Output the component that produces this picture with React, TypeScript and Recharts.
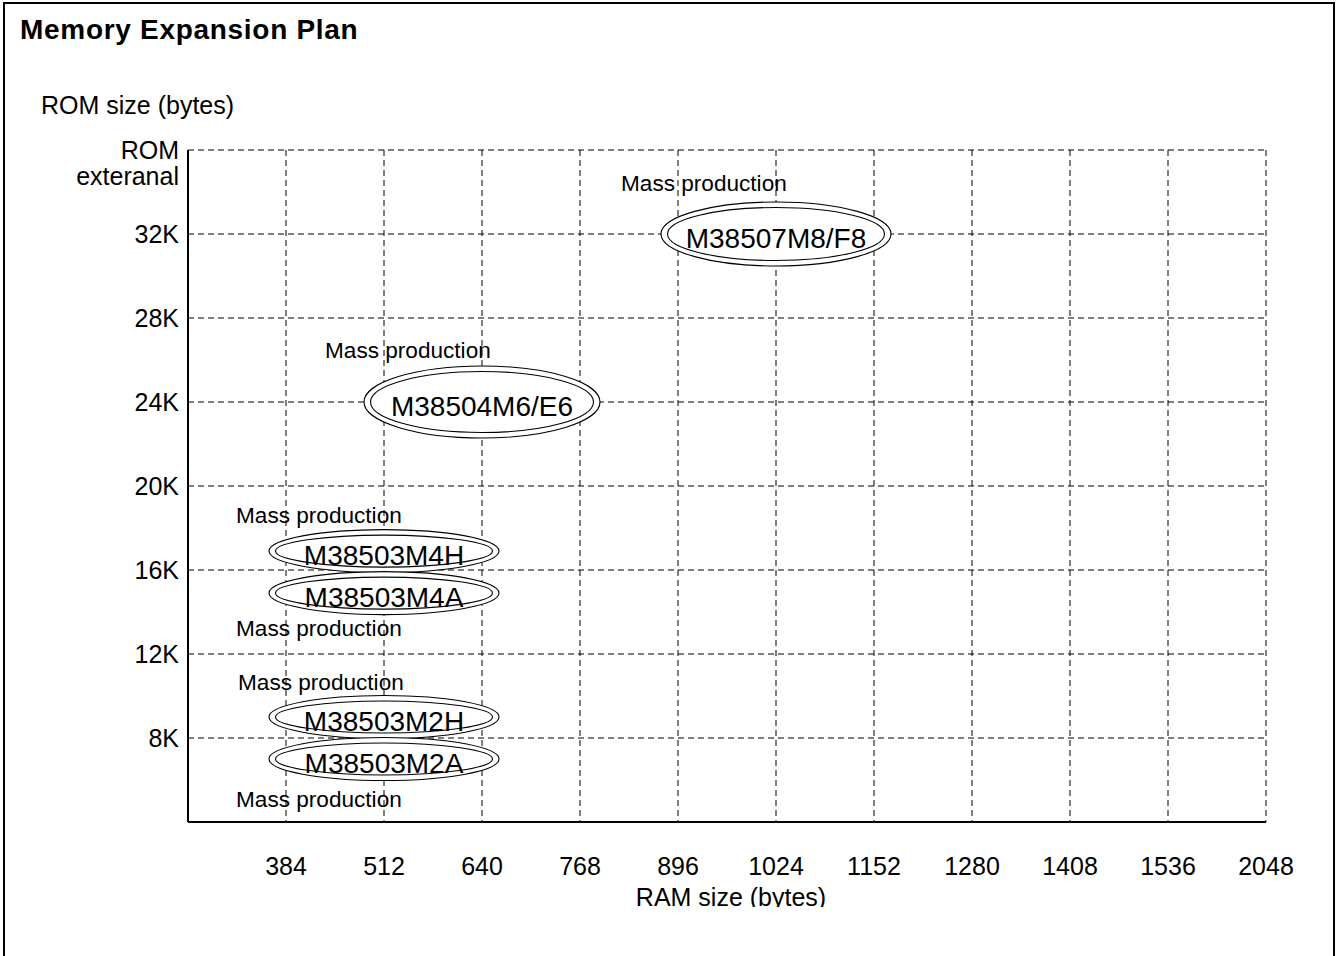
import React from 'react';
import { ScatterChart, Scatter, XAxis, YAxis, CartesianGrid, Label } from 'recharts';

const FONT = '"Liberation Sans", Arial, Helvetica, sans-serif';

// RAM sizes along the x axis (one column each)
const ramSizes = ['384', '512', '640', '768', '896', '1024', '1152', '1280', '1408', '1536', '2048'];
// ROM sizes on the y axis (K bytes), top row is external ROM
const romTicks = [8, 12, 16, 20, 24, 28, 32, 36];
const romTickLabels = ['8K', '12K', '16K', '20K', '24K', '28K', '32K', 'ROM exteranal'];

// products
const partNames = ['M38507M8/F8', 'M38504M6/E6', 'M38503M4H', 'M38503M4A', 'M38503M2H', 'M38503M2A'];
const partRam = ['1024', '640', '512', '512', '512', '512'];
const partRom = [32, 24, 16.9, 14.9, 9, 7];
const partStatus = ['Mass production', 'Mass production', 'Mass production', 'Mass production', 'Mass production', 'Mass production'];

// ellipse size and status label offset per product (pixels)
const partLook: Record<string, { rx: number; ry: number; lx: number; ly: number }> = {
  'M38507M8/F8': { rx: 115, ry: 32, lx: -155, ly: -43 },
  'M38504M6/E6': { rx: 118, ry: 36, lx: -157, ly: -44 },
  M38503M4H: { rx: 115, ry: 21.5, lx: -148, ly: -28 },
  M38503M4A: { rx: 115, ry: 21.5, lx: -148, ly: 43 },
  M38503M2H: { rx: 115, ry: 21.5, lx: -146, ly: -27 },
  M38503M2A: { rx: 115, ry: 21.5, lx: -148, ly: 48 },
};

const data = partNames.map((name, i) => ({
  name,
  ram: ramSizes.indexOf(partRam[i]) + 1,
  rom: partRom[i],
  status: partStatus[i],
}));

const xTicks = ramSizes.map((_, i) => i + 1);

const PartShape = (props: any) => {
  const { cx, cy, payload } = props;
  const look = partLook[payload.name];
  return (
    <g fontFamily={FONT}>
      <ellipse cx={cx} cy={cy} rx={look.rx} ry={look.ry} fill="#fff" stroke="#000" strokeWidth={1.1} />
      <ellipse cx={cx} cy={cy} rx={look.rx - 6.5} ry={look.ry - 5.5} fill="none" stroke="#000" strokeWidth={1.1} />
      <text x={cx} y={cy + 14} textAnchor="middle" fontSize={28} fill="#000">
        {payload.name}
      </text>
      <text x={cx + look.lx} y={cy + look.ly} fontSize={22.6} fill="#000">
        {payload.status}
      </text>
    </g>
  );
};

const RomTick = (props: any) => {
  const { x, y, payload } = props;
  const label = romTickLabels[romTicks.indexOf(payload.value)] || '';
  const lines = label.split(' ');
  return (
    <text x={x} y={y} textAnchor="end" fontSize={25} fill="#000" fontFamily={FONT}>
      {lines.map((t, i) => (
        <tspan key={i} x={x} dy={i === 0 ? '0.355em' : 26}>
          {t}
        </tspan>
      ))}
    </text>
  );
};

const RomTitle = (props: any) => {
  const { viewBox } = props;
  return (
    <text x={viewBox.x - 47} y={viewBox.y - 36} fontSize={25} fill="#000" fontFamily={FONT}>
      ROM size (bytes)
    </text>
  );
};

const RamTitle = (props: any) => {
  const { viewBox } = props;
  const cx = viewBox.x + viewBox.width / 2 + 4;
  const by = viewBox.y + 84;
  return (
    <g>
      <defs>
        <clipPath id="ram-title-clip">
          <rect x={cx - 150} y={by - 30} width={300} height={31} />
        </clipPath>
      </defs>
      <text x={cx} y={by} textAnchor="middle" fontSize={25} fill="#000" fontFamily={FONT} clipPath="url(#ram-title-clip)">
        RAM size (bytes)
      </text>
    </g>
  );
};

export default function App() {
  return (
    <div
      style={{
        position: 'absolute',
        left: 0,
        top: 0,
        width: 1337,
        height: 956,
        overflow: 'hidden',
        background: '#fff',
        fontFamily: FONT,
      }}
    >
      <div
        style={{
          position: 'absolute',
          left: 3,
          top: 2,
          width: 1332,
          height: 980,
          border: '2px solid #000',
          boxSizing: 'border-box',
        }}
      />
      <div
        style={{
          position: 'absolute',
          left: 20,
          top: 16,
          fontSize: 28,
          lineHeight: '28px',
          fontWeight: 'bold',
          letterSpacing: 0.7,
          color: '#000',
        }}
      >
        Memory Expansion Plan
      </div>
      <div style={{ position: 'absolute', left: 0, top: 0 }}>
        <ScatterChart width={1337} height={956} margin={{ top: 150, right: 71, bottom: 74, left: 88 }}>
          <CartesianGrid stroke="#000" strokeDasharray="6 4" strokeWidth={1} />
          <XAxis
            type="number"
            dataKey="ram"
            domain={[0, 11]}
            ticks={xTicks}
            interval={0}
            tickFormatter={(v: number) => ramSizes[v - 1]}
            tickSize={0}
            tickMargin={35}
            height={60}
            tickLine={false}
            axisLine={{ stroke: '#000', strokeWidth: 2 }}
            tick={{ fontSize: 25, fill: '#000', fontFamily: FONT }}
          >
            <Label content={<RamTitle />} />
          </XAxis>
          <YAxis
            type="number"
            dataKey="rom"
            domain={[4, 36]}
            ticks={romTicks}
            interval={0}
            width={100}
            tickSize={0}
            tickMargin={9}
            tickLine={false}
            axisLine={{ stroke: '#000', strokeWidth: 2 }}
            tick={<RomTick />}
          >
            <Label content={<RomTitle />} />
          </YAxis>
          <Scatter data={data} shape={<PartShape />} isAnimationActive={false} />
        </ScatterChart>
      </div>
    </div>
  );
}
